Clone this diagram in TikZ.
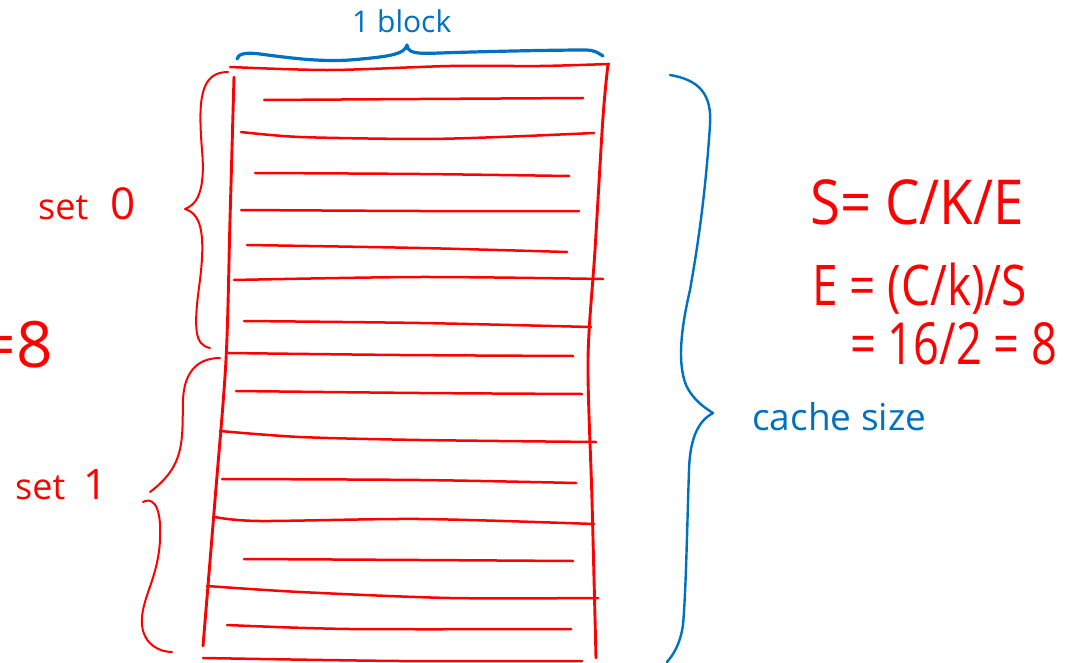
\documentclass[tikz,border=0pt]{standalone}
\usepackage{fontspec}
\setmainfont{Open Sans}
\usepackage{graphicx}
\definecolor{inkred}{RGB}{255,0,0}
\definecolor{inkblue}{RGB}{0,112,192}
\newcommand{\fs}[1]{\fontsize{#1}{#1}\selectfont}
\begin{document}
\begin{tikzpicture}[x=1pt,y=-1pt,
  redline/.style={draw=inkred,line width=2.5pt,line cap=round,line join=round},
  redbrace/.style={draw=inkred,line width=2pt,line cap=round,line join=round},
  bluebrace/.style={draw=inkblue,line width=2.4pt,line cap=round,line join=round},
  redtext/.style={text=inkred,inner sep=0pt,anchor=base west},
  bluetext/.style={text=inkblue,inner sep=0pt,anchor=base west}]
\useasboundingbox (0,0) rectangle (1067,663);
\clip (0,0) rectangle (1067,663);

% cache lines (rows of the sets)
\draw[redline] plot[smooth] coordinates {(230,67) (330,70) (450,66) (540,66) (609,64)};
\draw[redline] plot[smooth] coordinates {(264,100) (420,99) (583,98)};
\draw[redline] plot[smooth] coordinates {(241,132) (300,137) (420,139) (500,137) (594,133)};
\draw[redline] plot[smooth] coordinates {(255,173) (420,174) (569,176)};
\draw[redline] plot[smooth] coordinates {(241,210) (420,211) (579,211)};
\draw[redline] plot[smooth] coordinates {(247,245) (420,248) (567,252)};
\draw[redline] plot[smooth] coordinates {(234,280) (420,277) (603,279)};
\draw[redline] plot[smooth] coordinates {(244,321) (420,323) (591,327)};
\draw[redline] plot[smooth] coordinates {(228,353) (400,355) (573,356)};
\draw[redline] plot[smooth] coordinates {(236,391) (420,393) (582,394)};
\draw[redline] plot[smooth] coordinates {(220,431) (300,437) (420,440) (596,442)};
\draw[redline] plot[smooth] coordinates {(222,479) (420,480) (576,483)};
\draw[redline] plot[smooth] coordinates {(215,517) (260,521) (420,519) (594,524)};
\draw[redline] plot[smooth] coordinates {(244,559) (420,560) (573,561)};
\draw[redline] plot[smooth] coordinates {(207,586) (300,592) (450,598) (598,598)};
\draw[redline] plot[smooth] coordinates {(227,625) (350,629) (571,629)};
\draw[redline] plot[smooth] coordinates {(203,658) (400,661) (582,661)};

% side walls
\draw[redline,line width=2.9pt] plot[smooth] coordinates {(234,77) (230,220) (226,360) (215,500) (203,646)};
\draw[redline,line width=2.9pt] plot[smooth] coordinates {(608,64) (603,117) (595,250) (588,360) (592,500) (596,658)};

% brace for set 0
\draw[redbrace] (228,72) .. controls (200,72) and (198,100) .. (202,150)
  .. controls (206,195) and (195,205) .. (185,209)
  .. controls (200,214) and (206,230) .. (200,280)
  .. controls (193,330) and (195,345) .. (210,348);
% brace for set 1
\draw[redbrace] (220,358) .. controls (195,358) and (184,375) .. (183,400)
  .. controls (182,440) and (186,465) .. (150,492);
\draw[redbrace] (143,502) .. controls (150,498) and (162,500) .. (160,540)
  .. controls (158,580) and (140,600) .. (142,625)
  .. controls (144,645) and (160,652) .. (172,652);

% brace over one block
\draw[bluebrace,line width=3.2pt] (237,59) .. controls (238,54) and (245,52) .. (260,54)
  .. controls (290,58) and (320,62) .. (350,60)
  .. controls (385,57) and (405,55) .. (407,45)
  .. controls (408,53) and (415,54) .. (440,53)
  .. controls (500,51) and (560,50) .. (585,50)
  .. controls (595,50) and (598,53) .. (603,56);

% brace for the whole cache
\draw[bluebrace] (670,75) .. controls (700,80) and (712,95) .. (710,125)
  .. controls (705,200) and (697,250) .. (690,290)
  .. controls (683,320) and (676,360) .. (686,385)
  .. controls (693,400) and (705,408) .. (713,413)
  .. controls (700,420) and (690,435) .. (689,470)
  .. controls (687,530) and (686,590) .. (683,625)
  .. controls (680,645) and (673,655) .. (667,662);

% labels
\node[bluetext] (block) at (352,33) {\fs{30}1 block};
\node[bluetext] (csize) at (752,430) {\fs{37}cache size};
\node[redtext] (set0) at (38,219) {\fs{36}set\hspace{22pt}{\fs{44}0}};
\node[redtext] (set1) at (15,499) {\fs{36}set\hspace{18pt}{\fs{42}1}};
\node[redtext,anchor=base east] (eight) at (53,367) {\fs{64}=8};
\node[redtext] (f1) at (810,224) {\fs{62}\scalebox{0.88}[1]{S= C/K/E}};
\node[redtext] (f2) at (812,305) {\fs{56}\scalebox{0.82}[1]{E = (C/k)/S}};
\node[redtext] (f3) at (850,364) {\fs{58}\scalebox{0.78}[1]{= 16/2 = 8}};
\end{tikzpicture}
\end{document}
